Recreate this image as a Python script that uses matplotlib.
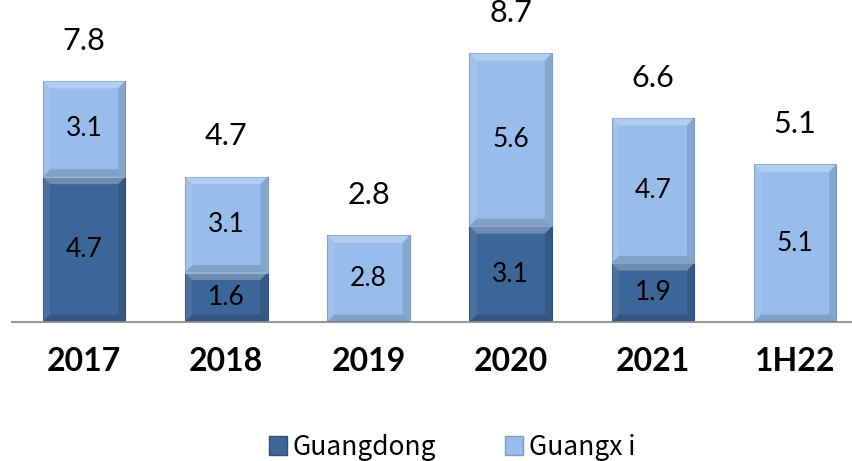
import numpy as np
import matplotlib
matplotlib.use("Agg")
import matplotlib.pyplot as plt
from matplotlib.patches import Polygon, Patch

years = ["2017", "2018", "2019", "2020", "2021", "1H22"]
guangdong = [4.7, 1.6, 0.0, 3.1, 1.9, 0.0]
guangxi = [3.1, 3.1, 2.8, 5.6, 4.7, 5.1]
totals = [7.8, 4.7, 2.8, 8.7, 6.6, 5.1]

dark = "#3D6698"
light = "#98BDEB"

fig = plt.figure(figsize=(8.52, 4.61), dpi=100)
ax = fig.add_axes([12 / 852, 139 / 461, 840 / 852, 322 / 461])
x = np.arange(len(years))
width = 0.58

b1 = ax.bar(x, guangdong, width, color=dark, edgecolor="#2E4F78", linewidth=0.8, zorder=2)
b2 = ax.bar(x, guangxi, width, bottom=guangdong, color=light, edgecolor="#7C9CC4", linewidth=0.8, zorder=2)


def bevel(patch):
    # fake the bevelled look of the original
    x0, y0 = patch.get_x(), patch.get_y()
    w, h = patch.get_width(), patch.get_height()
    if h <= 0:
        return
    bx, by = 0.05, min(0.24, h / 2.5)
    x1, y1 = x0 + w, y0 + h
    sides = [
        ([(x0, y1), (x1, y1), (x1 - bx, y1 - by), (x0 + bx, y1 - by)], 0.25, "white"),
        ([(x0, y0), (x1, y0), (x1 - bx, y0 + by), (x0 + bx, y0 + by)], 0.15, "black"),
        ([(x0, y0), (x0 + bx, y0 + by), (x0 + bx, y1 - by), (x0, y1)], 0.08, "white"),
        ([(x1, y0), (x1 - bx, y0 + by), (x1 - bx, y1 - by), (x1, y1)], 0.12, "black"),
    ]
    for pts, a, c in sides:
        ax.add_patch(Polygon(pts, closed=True, facecolor=c, alpha=a, edgecolor="none", zorder=3))


for p in list(b1) + list(b2):
    bevel(p)

for i in range(len(years)):
    if guangdong[i] > 0:
        ax.text(x[i], guangdong[i] / 2, f"{guangdong[i]:.1f}", ha="center", va="center",
                fontsize=19, family="Lato", zorder=4)
    ax.text(x[i], guangdong[i] + guangxi[i] / 2, f"{guangxi[i]:.1f}", ha="center", va="center",
            fontsize=19, family="Lato", zorder=4)
    ax.annotate(f"{totals[i]:.1f}", (x[i], totals[i]), xytext=(0, 29), textcoords="offset points",
                ha="center", va="center", fontsize=22, family="Lato", annotation_clip=False)

ax.set_xlim(-0.507, 5.4)
ax.set_ylim(0, 10.42)
ax.set_xticks(x)
ax.set_xticklabels(years, fontsize=23, fontweight="bold", family="Lato")
ax.tick_params(axis="x", length=0, pad=18)
ax.set_yticks([])
for s in ["top", "right", "left"]:
    ax.spines[s].set_visible(False)
ax.spines["bottom"].set_color("#999999")
ax.spines["bottom"].set_linewidth(1.5)

handles = [Patch(facecolor=dark, edgecolor="#2E4F78"), Patch(facecolor=light, edgecolor="#7C9CC4")]
fig.legend(handles, ["Guangdong", "Guangx i"], loc="center", bbox_to_anchor=(452 / 852, 14 / 461),
           ncol=2, frameon=False, prop={"family": "Noto Sans CJK JP", "size": 19},
           handlelength=0.7, handleheight=0.7, handletextpad=0.2, columnspacing=2.6)

fig.savefig("out.png", dpi=100)
